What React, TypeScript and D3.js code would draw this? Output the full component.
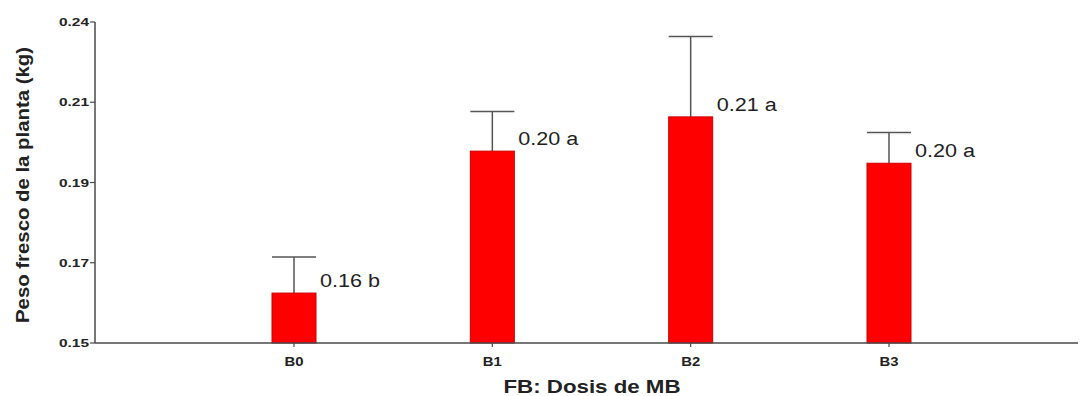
import React from "react";
import * as d3 from "d3";

const categories = ["B0", "B1", "B2", "B3"];
const means = [0.164, 0.2038, 0.2134, 0.2004];
const errUpper = [0.1741, 0.2149, 0.2359, 0.209];
const barLabels = ["0.16 b", "0.20 a", "0.21 a", "0.20 a"];
const yTickValues = [0.15, 0.1725, 0.195, 0.2175, 0.24];
const yTickLabels = ["0.15", "0.17", "0.19", "0.21", "0.24"];

const W = 1081;
const H = 396;
const FONT = "'Liberation Sans', Arial, Helvetica, sans-serif";

export default function App() {
  const y = d3.scaleLinear().domain([0.15, 0.24]).range([343, 22]);
  const x = d3.scalePoint<string>().domain(categories).range([294, 889]);
  const axisX0 = 95;
  const axisX1 = 1078;
  const barW = 44;
  const axisColor = "#4a4a4a";
  const textColor = "#222";

  return (
    <svg
      width={W}
      height={H}
      style={{ position: "absolute", left: 0, top: 0, background: "#fff" }}
      fontFamily={FONT}
    >
      {/* bars */}
      {categories.map((c, i) => {
        const cx = x(c)!;
        const top = y(means[i]);
        return (
          <g key={c}>
            <line x1={cx} x2={cx} y1={top} y2={y(errUpper[i])} stroke="#555" strokeWidth={1.5} />
            <line
              x1={cx - barW / 2}
              x2={cx + barW / 2}
              y1={y(errUpper[i])}
              y2={y(errUpper[i])}
              stroke="#555"
              strokeWidth={1.5}
            />
            <rect
              x={cx - barW / 2}
              y={top}
              width={barW}
              height={y(0.15) - top}
              fill="#ff0000"
              stroke="#cc0000"
              strokeWidth={1}
            />
            <text
              x={cx + barW / 2 + 4}
              y={top - 6}
              fontSize={18}
              fill={textColor}
              textLength={60}
              lengthAdjust="spacingAndGlyphs"
            >
              {barLabels[i]}
            </text>
          </g>
        );
      })}

      {/* y axis */}
      <line x1={axisX0} x2={axisX0} y1={y(0.24)} y2={y(0.15)} stroke={axisColor} strokeWidth={1.5} />
      {yTickValues.map((v, i) => (
        <g key={v}>
          <line x1={axisX0 - 5} x2={axisX0} y1={y(v)} y2={y(v)} stroke={axisColor} strokeWidth={1.2} />
          <text
            x={89}
            y={y(v) + 4}
            textAnchor="end"
            fontSize={11}
            fontWeight="bold"
            fill={textColor}
            textLength={30}
            lengthAdjust="spacingAndGlyphs"
          >
            {yTickLabels[i]}
          </text>
        </g>
      ))}

      {/* x axis */}
      <line x1={axisX0} x2={axisX1} y1={y(0.15)} y2={y(0.15)} stroke={axisColor} strokeWidth={1.5} />
      {categories.map((c) => (
        <g key={c}>
          <line x1={x(c)!} x2={x(c)!} y1={y(0.15)} y2={y(0.15) + 4} stroke={axisColor} strokeWidth={1.2} />
          <text
            x={x(c)!}
            y={366}
            textAnchor="middle"
            fontSize={13}
            fontWeight="bold"
            fill={textColor}
            textLength={19}
            lengthAdjust="spacingAndGlyphs"
          >
            {c}
          </text>
        </g>
      ))}

      {/* axis titles */}
      <text
        x={592}
        y={393}
        textAnchor="middle"
        fontSize={19}
        fontWeight="bold"
        fill={textColor}
        textLength={177}
        lengthAdjust="spacingAndGlyphs"
      >
        FB: Dosis de MB
      </text>
      <text
        transform={`translate(29,185) rotate(-90)`}
        textAnchor="middle"
        fontSize={18}
        fontWeight="bold"
        fill={textColor}
        textLength={276}
        lengthAdjust="spacingAndGlyphs"
      >
        Peso fresco de la planta (kg)
      </text>
    </svg>
  );
}
